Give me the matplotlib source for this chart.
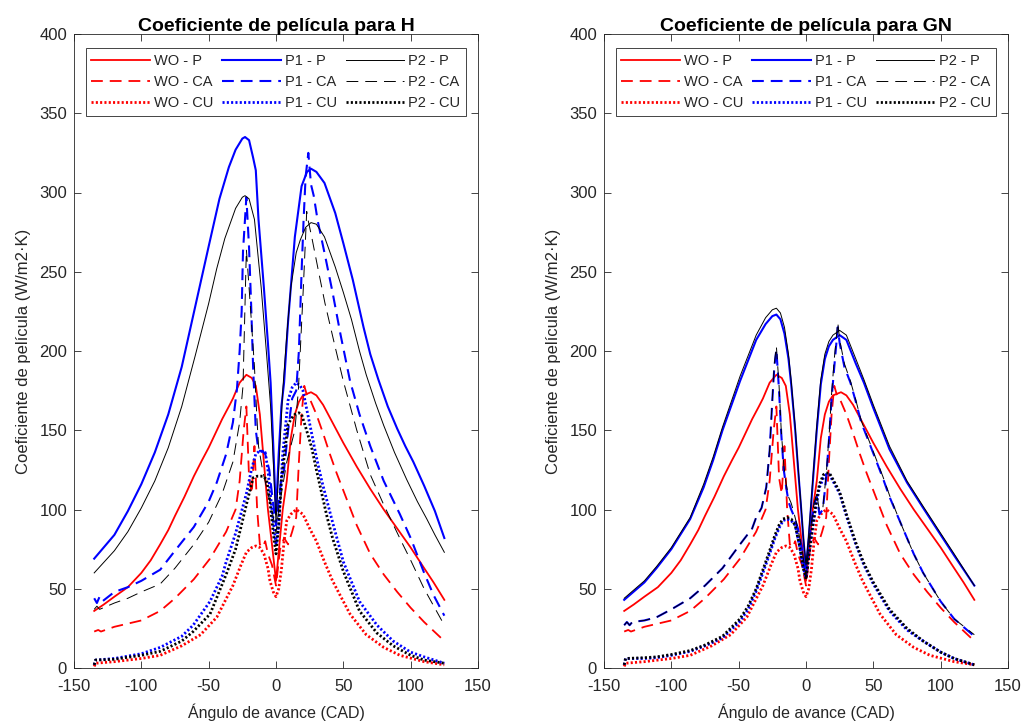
import numpy as np
import matplotlib
matplotlib.use("Agg")
import matplotlib.pyplot as plt

plt.rcParams['font.family'] = ['Liberation Sans', 'DejaVu Sans']
plt.rcParams['lines.scale_dashes'] = False
plt.rcParams['axes.unicode_minus'] = False

# ---------------- data (x = CAD, y = W/m2K) ----------------
# Without (WO) curves, identical in both panels
WO_P = [(-135, 36), (-128, 40), (-120, 45), (-110, 51), (-100, 60), (-93, 68), (-86, 78), (-80, 87),
        (-75, 96), (-68, 108), (-61, 121), (-55, 131), (-50, 139), (-45, 148), (-40, 157), (-35, 165),
        (-32, 170), (-27, 180), (-22, 185), (-18, 183), (-15, 178), (-12, 160), (-9, 130),
        (-6, 100), (-3, 78), (0, 55), (3, 82), (5, 100), (8, 118), (11, 145), (14, 160), (17, 168),
        (20, 172), (26, 174), (30, 172), (35, 166), (40, 158), (45, 150), (50, 142), (60, 127), (70, 113),
        (80, 100), (90, 88), (100, 76), (110, 63), (117, 54), (125, 43)]
WO_CA = [(-135, 23), (-132, 24), (-130, 23), (-120, 26), (-110, 28), (-100, 30), (-86, 36), (-75, 44),
         (-61, 56), (-49, 69), (-37, 86), (-30, 100), (-27, 118), (-24, 150), (-22, 165), (-20, 120),
         (-18, 110), (-16, 140), (-14, 100), (-12, 78), (-10, 76), (-8, 80), (-6, 72), (-3, 65), (0, 52),
         (3, 75), (6, 82), (9, 78), (12, 86), (15, 95), (17, 130), (19, 160), (21, 178), (23, 172), (26, 168),
         (30, 160), (35, 148), (40, 135), (45, 123), (50, 112), (60, 90), (70, 72), (80, 59), (90, 48),
         (100, 38), (110, 29), (125, 17)]
WO_CU = [(-135, 1), (-134, 3), (-120, 4), (-100, 6), (-86, 8), (-70, 14), (-56, 21), (-44, 32), (-32, 52),
         (-26, 65), (-22, 73), (-18, 76), (-15, 77), (-12, 76), (-9, 72), (-6, 63), (-4.5, 55), (-2, 48),
         (0, 45), (2, 50), (4, 62), (6, 80), (8, 93), (11, 97), (15, 100), (20, 97), (25, 88), (30, 80),
         (36, 67), (42, 55), (50, 42), (55, 34), (67, 21), (80, 13), (92, 8), (110, 4), (125, 2)]

# Panel H
H_P1_P = [(-135, 69), (-120, 84), (-110, 99), (-100, 116), (-90, 136), (-80, 160), (-70, 190), (-60, 228),
          (-50, 266), (-42, 296), (-35, 316), (-30, 327), (-25, 334), (-23, 335), (-20, 333), (-17, 322),
          (-15, 314), (-13, 283), (-9, 240), (-6, 205), (-4, 180), (-2, 140), (0, 97), (2, 135), (4, 165),
          (6, 180), (9, 219), (14, 272), (19, 304), (23, 313), (26, 315), (30, 313), (36, 306), (44, 287),
          (50, 268), (57, 245), (65, 215), (70, 198), (76, 182), (83, 165), (90, 151), (96, 140), (102, 130),
          (110, 115), (118, 99), (125, 82)]
H_P2_P = [(-135, 60), (-120, 74), (-110, 86), (-100, 101), (-90, 118), (-80, 139), (-70, 165), (-60, 197),
          (-50, 230), (-44, 252), (-38, 271), (-30, 290), (-25, 297), (-23, 298), (-20, 296), (-16, 283),
          (-11, 240), (-7, 198), (-4, 165), (-2, 130), (0, 92), (2, 125), (5, 175), (8, 210), (11, 240),
          (15, 262), (18, 270), (22, 278), (26, 281), (30, 280), (36, 272), (44, 253), (50, 237), (56, 220),
          (62, 200), (67, 185), (74, 167), (80, 153), (88, 136), (97, 119), (105, 105), (112, 94), (118, 84),
          (125, 73)]
H_P1_CA = [(-135, 44), (-133, 41), (-131, 45), (-129, 42), (-120, 48), (-110, 51), (-100, 55), (-86, 62),
           (-75, 74), (-61, 89), (-50, 105), (-44, 117), (-37, 135), (-32, 155), (-29, 176), (-27, 200),
           (-25.5, 225), (-24.5, 263), (-22, 297), (-20, 265), (-18.5, 230), (-17, 190), (-15, 150), (-13, 137),
           (-10, 137), (-8, 135), (-5, 125), (-3, 110), (0, 90), (2, 105), (4, 120), (6, 125), (9, 150),
           (12, 170), (15, 175), (17, 200), (19, 250), (20.5, 283), (22, 310), (24, 325), (26, 305), (28, 298),
           (31, 282), (36, 262), (42, 237), (48, 210), (55, 181), (62, 160), (70, 140), (80, 118), (92, 97),
           (100, 82), (110, 60), (117, 46), (125, 33)]
H_P2_CA = [(-135, 37), (-133, 39), (-131, 37), (-120, 41), (-110, 44), (-100, 48), (-86, 53), (-75, 63),
           (-61, 78), (-50, 92), (-40, 110), (-32, 130), (-27, 155), (-24.5, 178), (-22, 264), (-20, 240),
           (-18.3, 219), (-16, 190), (-14.3, 160), (-13, 140), (-10, 125), (-6, 110), (-3, 100), (0, 85),
           (2, 100), (5, 115), (8, 130), (11, 140), (14, 150), (16.6, 175), (20.3, 240), (22.8, 288), (24, 282),
           (26.5, 272), (31.4, 251), (36.4, 230), (43.8, 203), (50, 181), (60, 150), (70, 122), (80, 103),
           (93, 80), (100, 68), (110, 50), (125, 27)]
H_P1_CU = [(-135, 2), (-134, 5), (-120, 6), (-100, 9), (-86, 13), (-70, 20), (-61.5, 27), (-49, 42), (-40, 58),
           (-37, 67), (-30, 85), (-22, 110), (-18, 126), (-15, 135), (-12, 137), (-8, 136), (-6, 125), (-3, 100),
           (0, 78), (2, 90), (5, 135), (9, 169), (12, 177), (15, 180), (18, 178), (20, 175), (26, 150),
           (30, 133), (34, 118), (38, 105), (42, 92), (50, 67), (62, 42), (75, 27), (87, 17), (100, 10),
           (110, 7), (125, 3)]
H_P2_CU = [(-135, 2), (-134, 5), (-120, 5.5), (-100, 8), (-86, 10.5), (-70, 17), (-61.5, 23), (-49, 34),
           (-37, 59), (-30, 75), (-22, 103), (-17, 120), (-14, 121), (-10, 121), (-7, 119), (-4.5, 105),
           (-2, 85), (0, 72), (2, 90), (4, 118), (7, 140), (9, 154), (12, 158), (14, 160), (17, 161), (19, 160),
           (22, 152), (26.5, 139), (30, 125), (34, 110), (38, 95), (42, 82), (50, 61), (62, 36), (75, 22),
           (87, 14), (100, 8), (110, 5), (125, 3)]

# Panel GN
GN_P1_P = [(-135, 43), (-120, 54), (-111, 63), (-100, 75), (-86, 94), (-76, 114), (-69, 131), (-62, 150),
           (-49, 181), (-37, 207), (-30, 217), (-25, 222), (-22, 223), (-19, 220), (-16, 211), (-13, 195),
           (-11, 179), (-8, 150), (-6, 127), (-4, 105), (-2, 82), (0, 63), (2, 82), (4, 105), (6, 128),
           (8, 150), (11, 179), (14, 195), (17, 203), (20, 207), (25, 210), (30, 207), (37, 192), (43, 180),
           (50, 164), (62, 138), (75, 117), (87, 101), (100, 84), (110, 71), (125, 52)]
GN_P2_P = [(-135, 44), (-120, 55), (-111, 64), (-100, 76), (-86, 95), (-76, 116), (-69, 133), (-62, 152),
           (-49, 184), (-37, 210), (-30, 221), (-25, 226), (-22, 227), (-19, 224), (-16, 215), (-13, 198),
           (-11, 181), (-8, 152), (-6, 128), (-4, 106), (-2, 83), (0, 65), (2, 84), (4, 107), (6, 130),
           (8, 153), (11, 182), (14, 198), (17, 206), (20, 210), (25, 213), (30, 210), (37, 195), (43, 182),
           (50, 166), (62, 140), (75, 118), (87, 102), (100, 85), (110, 72), (125, 52)]
GN_P1_CA = [(-135, 27), (-133, 29), (-131, 27), (-129, 29), (-120, 30), (-111, 32), (-100, 37), (-86, 44),
            (-75, 52), (-62, 63), (-49, 78), (-40, 88), (-37, 95), (-33, 101), (-29.5, 114), (-27, 137),
            (-25, 169), (-23.5, 190), (-22, 201), (-20, 175), (-18.4, 148), (-16.5, 125), (-14.7, 114),
            (-13, 105), (-11, 100), (-9, 96), (-6, 88), (-3, 75), (0, 57), (3, 85), (6, 103), (8, 108),
            (10, 97), (12.5, 100), (15, 120), (17.4, 148), (19, 170), (21, 190), (23.6, 215), (25, 205),
            (28.5, 190), (33, 180), (37, 168), (41, 155), (47, 142), (52, 131), (57, 120), (62, 108),
            (70, 92), (80, 72), (87, 60), (100, 42), (110, 31), (125, 20)]
GN_P2_CA = [(-135, 27), (-133, 29), (-131, 27), (-129, 29), (-120, 30), (-111, 32), (-100, 37), (-86, 44),
            (-75, 52), (-62, 63), (-49, 78), (-40, 88), (-37, 95), (-33, 101), (-29.5, 114), (-27, 138),
            (-25, 170), (-23.5, 192), (-22, 203), (-20, 178), (-18.4, 150), (-16.5, 128), (-14.7, 116),
            (-13, 108), (-11, 104), (-9, 98), (-6, 88), (-3, 75), (0, 58), (3, 86), (6, 104), (8, 110),
            (10, 99), (12.5, 101), (15, 122), (17.4, 150), (19, 173), (21, 195), (23.6, 218), (25, 207),
            (28.5, 192), (33, 181), (37, 169), (41, 156), (47, 143), (52, 132), (57, 121), (62, 109),
            (70, 92), (80, 72), (87, 60), (100, 42), (110, 31), (125, 21)]
GN_P1_CU = [(-135, 2), (-134, 6), (-120, 6), (-111, 6.5), (-100, 8), (-86, 10.5), (-75, 14), (-62, 19),
            (-49, 29.5), (-43, 37), (-37, 48.5), (-32, 60), (-27, 72), (-23, 82), (-19.6, 89), (-17, 93),
            (-14, 94), (-11, 93), (-8, 90), (-5, 78), (-2, 63), (0, 57), (2, 70), (5, 89), (8, 105), (10, 114),
            (13, 120), (15, 122), (17.4, 122), (20, 118), (25, 110), (30, 96), (37, 78), (43, 65), (50, 53),
            (62, 36), (75, 24), (87, 17), (100, 10), (110, 6), (125, 2)]
GN_P2_CU = [(-135, 2), (-134, 6), (-120, 6.5), (-111, 7), (-100, 8.5), (-86, 11), (-75, 14.5), (-62, 20),
            (-49, 31), (-43, 39), (-37, 50), (-32, 62), (-27, 74), (-23, 84), (-19.6, 91), (-17, 94),
            (-14, 95), (-11, 94), (-8, 90), (-5, 78), (-2, 63), (0, 56), (2, 70), (5, 90), (8, 107), (10, 116),
            (13, 122), (15, 123), (17.4, 123), (20, 119), (25, 111), (30, 97), (37, 79), (43, 66), (50, 54),
            (62, 37), (75, 25), (87, 17), (100, 10), (110, 6), (125, 2)]

labels = ["WO - P", "WO - CA", "WO - CU", "P1 - P", "P1 - CA", "P1 - CU", "P2 - P", "P2 - CA", "P2 - CU"]
titles = ["Coeficiente de película para H", "Coeficiente de película para GN"]
xlabel = "Ángulo de avance (CAD)"
ylabel = "Coeficiente de película (W/m2·K)"
xticks = [-150, -100, -50, 0, 50, 100, 150]
yticks = [0, 50, 100, 150, 200, 250, 300, 350, 400]

panels = [
    [WO_P, WO_CA, WO_CU, H_P1_P, H_P1_CA, H_P1_CU, H_P2_P, H_P2_CA, H_P2_CU],
    [WO_P, WO_CA, WO_CU, GN_P1_P, GN_P1_CA, GN_P1_CU, GN_P2_P, GN_P2_CA, GN_P2_CU],
]

# ---------------- styles ----------------
DASH = (0, (8.5, 5.0))
DOT = (0, (1.5, 1.6))
styles = [
    dict(color='#ff0000', lw=1.3, ls='-'),
    dict(color='#ff0000', lw=1.3, ls=DASH),
    dict(color='#ff0000', lw=2.0, ls=DOT),
    dict(color='#0000ff', lw=1.5, ls='-'),
    dict(color='#0000ff', lw=1.5, ls=DASH),
    dict(color='#0000ff', lw=2.0, ls=DOT),
    dict(color='#000000', lw=0.7, ls='-'),
    dict(color='#000000', lw=0.7, ls=DASH),
    dict(color='#000000', lw=2.0, ls=DOT),
]

AX_C = '#262626'
W, H = 1027, 727
fig = plt.figure(figsize=(W / 100, H / 100), dpi=100)
rects = [[74 / W, 1 - 668 / H, 404 / W, 634 / H], [604 / W, 1 - 668 / H, 404 / W, 634 / H]]

for rect, curves, title in zip(rects, panels, titles):
    ax = fig.add_axes(rect)
    handles = []
    for data, st, lab in zip(curves, styles, labels):
        arr = np.array(data, dtype=float)
        h, = ax.plot(arr[:, 0], arr[:, 1], color=st['color'], lw=st['lw'], linestyle=st['ls'],
                     label=lab, solid_joinstyle='round')
        handles.append(h)
    ax.set_xlim(-150, 150)
    ax.set_ylim(0, 400)
    ax.set_xticks(xticks)
    ax.set_yticks(yticks)
    ax.tick_params(direction='in', length=5, width=0.6, colors=AX_C, labelsize=12,
                   top=True, right=True)
    ax.tick_params(axis='x', pad=8)
    ax.tick_params(axis='y', pad=5)
    for s in ax.spines.values():
        s.set_color(AX_C)
        s.set_linewidth(0.6)
    ax.set_title(title, fontsize=14, fontweight='bold', color='black', pad=2)
    ax.set_xlabel(xlabel, fontsize=11.5, color=AX_C, labelpad=7)
    ax.set_ylabel(ylabel, fontsize=12, color=AX_C, labelpad=6)
    leg = ax.legend(handles=handles, ncol=3, loc='upper center', bbox_to_anchor=(0.5, 0.978),
                    fontsize=10.5, handlelength=4.0, handletextpad=0.3, columnspacing=0.6,
                    labelspacing=0.5, borderpad=0.4, fancybox=False, framealpha=1,
                    edgecolor=AX_C, borderaxespad=0)
    leg.get_frame().set_linewidth(0.6)
    for t in leg.get_texts():
        t.set_color(AX_C)

fig.savefig('out.png', dpi=100)
